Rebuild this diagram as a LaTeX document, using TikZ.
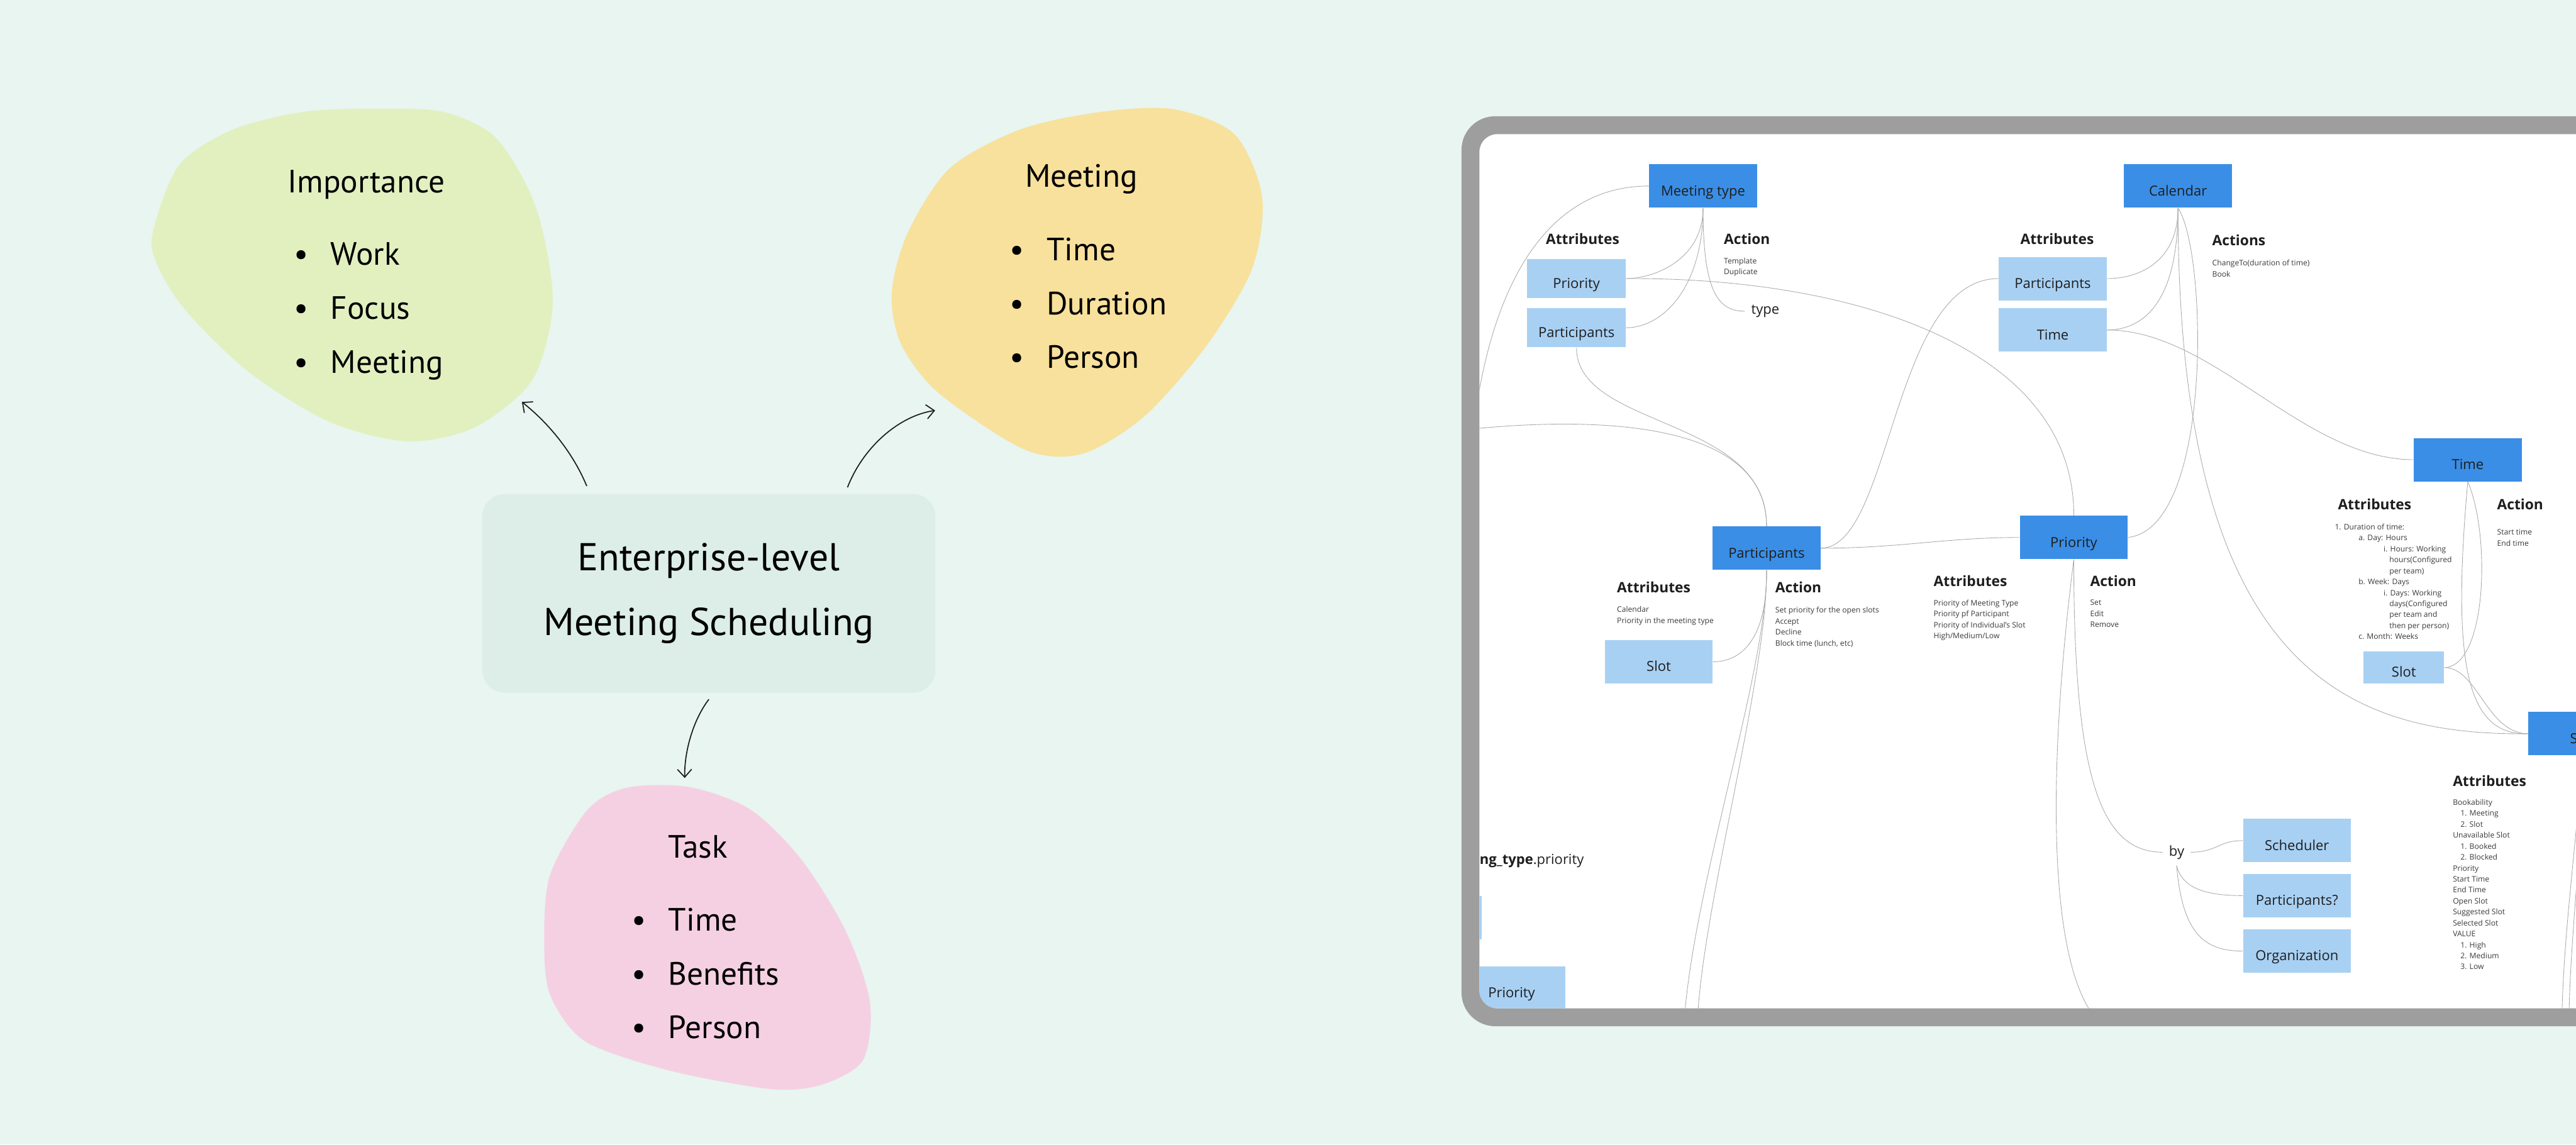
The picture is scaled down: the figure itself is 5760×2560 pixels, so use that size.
\documentclass[tikz,border=0pt]{standalone}
\usepackage{fontspec}
\setmainfont{Open Sans}
\newfontfamily\handfont{PT Sans}
\usetikzlibrary{arrows.meta}

\definecolor{bgmint}{HTML}{E8F5F0}
\definecolor{ctrfill}{HTML}{DCEEE7}
\definecolor{blobgreen}{HTML}{E2F0C0}
\definecolor{blobyellow}{HTML}{F8E19C}
\definecolor{blobpink}{HTML}{F5D0E2}
\definecolor{framegray}{HTML}{9E9E9E}
\definecolor{darkblue}{HTML}{3A8EE6}
\definecolor{lightblue}{HTML}{A8D0F3}
\definecolor{wirecol}{HTML}{ABABAB}
\definecolor{ink}{HTML}{1E1E1E}
\definecolor{notecol}{HTML}{3A3A3A}

\begin{document}
\begin{tikzpicture}[x=0.01cm, y=-0.01cm,
  darkbox/.style={fill=darkblue, minimum width=2.41cm, minimum height=0.97cm, inner sep=0pt,
    text height=14pt, text depth=1.8pt, font=\fontsize{8.8}{10}\selectfont, text=ink},
  lightbox/.style={darkbox, fill=lightblue},
  smallbox/.style={lightbox, minimum width=2.2cm, minimum height=0.87cm},
  head/.style={anchor=west, inner sep=0pt, font=\bfseries\fontsize{9.1}{11}\selectfont, text=ink},
  notes/.style={anchor=north west, inner sep=0pt, align=left, font=\fontsize{4.85}{6.97}\selectfont, text=notecol},
  tag/.style={inner sep=4pt, font=\fontsize{8.8}{10}\selectfont, text=ink},
  wire/.style={draw=wirecol, line width=0.35pt},
  hub/.style={fill=ctrfill, rounded corners=0.5cm, minimum width=10.12cm, minimum height=4.44cm,
    align=center, font=\handfont\fontsize{24.7}{41.5}\selectfont},
  blobtitle/.style={font=\handfont\fontsize{20.5}{24}\selectfont},
  bullets/.style={anchor=north west, inner sep=0pt, align=left, font=\handfont\fontsize{20.5}{34.3}\selectfont},
  pointer/.style={-{Straight Barb[length=5pt,width=9pt]}, line width=0.7pt, draw=ink}
]
  \useasboundingbox (0,0) rectangle (5760,2560);
  \clip (0,0) rectangle (5760,2560);
  \fill[bgmint] (0,0) rectangle (5760,2560);

  % mind map on the left
  \fill[blobgreen] plot[smooth cycle] coordinates {(341,523) (400,370) (520,290) (680,250) (850,243)
    (990,250) (1100,300) (1170,400) (1212,510) (1236,684) (1190,850) (1063,955) (914,987)
    (740,945) (560,835) (420,700) (355,600)};
  \fill[blobyellow] plot[smooth cycle] coordinates {(1994,655) (2030,520) (2124,376) (2280,290)
    (2456,251) (2622,244) (2760,300) (2822,440) (2800,600) (2700,770) (2560,930) (2420,1015)
    (2290,1005) (2100,880) (2015,770)};
  \fill[blobpink] plot[smooth cycle] coordinates {(1229,1960) (1312,1813) (1400,1762) (1540,1760)
    (1677,1810) (1790,1920) (1890,2080) (1945,2240) (1930,2370) (1840,2425) (1726,2436)
    (1500,2395) (1310,2330) (1232,2230) (1217,2120)};

  \node[hub] (hub) at (1585,1327) {Enterprise-level\\Meeting Scheduling};

  \node[blobtitle] (imptitle) at (819,413) {Importance};
  \node[bullets] (implist) at (739,542) {\llap{\textbullet\hspace{0.5cm}}Work\\\llap{\textbullet\hspace{0.5cm}}Focus\\\llap{\textbullet\hspace{0.5cm}}Meeting};
  \node[blobtitle] (meettitle) at (2418,401) {Meeting};
  \node[bullets] (meetlist) at (2340,531) {\llap{\textbullet\hspace{0.5cm}}Time\\\llap{\textbullet\hspace{0.5cm}}Duration\\\llap{\textbullet\hspace{0.5cm}}Person};
  \node[blobtitle] (tasktitle) at (1560,1894) {Task};
  \node[bullets] (tasklist) at (1494,2030) {\llap{\textbullet\hspace{0.5cm}}Time\\\llap{\textbullet\hspace{0.5cm}}Benefits\\\llap{\textbullet\hspace{0.5cm}}Person};

  \coordinate (hubA) at (1312,1087);
  \coordinate (hubB) at (1895,1090);
  \coordinate (hubC) at (1585,1564);
  \coordinate (impend) at (1167,899);
  \coordinate (meetend) at (2091,918);
  \coordinate (taskend) at (1531,1740);
  \draw[pointer] (hubA) .. controls (1280,1010) and (1225,945) .. (impend);
  \draw[pointer] (hubB) .. controls (1930,1000) and (2010,930) .. (meetend);
  \draw[pointer] (hubC) .. controls (1550,1610) and (1530,1680) .. (taskend);

  % board in the tablet frame
  \fill[framegray, rounded corners=0.75cm] (3268,260) rectangle (5950,2295);
  \fill[white, rounded corners=0.4cm] (3308,300) rectangle (5950,2255);
  \begin{scope}
    \clip[rounded corners=0.4cm] (3308,300) rectangle (5950,2255);

    \node[darkbox] (mtype) at (3808,416) {Meeting type};
    \node[darkbox] (cal) at (4870,416) {Calendar};
    \node[darkbox] (partm) at (3950,1226) {Participants};
    \node[darkbox] (prim) at (4637,1202) {Priority};
    \node[darkbox] (timem) at (5518,1028) {Time};
    \node[darkbox] (slotm) at (5774,1641) {Slot};

    \node[smallbox] (mtpri) at (3525,623) {Priority};
    \node[smallbox] (mtpart) at (3525,733) {Participants};
    \node[lightbox] (calpart) at (4590,623) {Participants};
    \node[lightbox] (caltime) at (4590,738) {Time};
    \node[lightbox] (partslot) at (3709,1480) {Slot};
    \node[lightbox, minimum width=1.8cm, minimum height=0.71cm] (timeslot) at (5375,1493) {Slot};
    \node[lightbox] (sched) at (5136,1880) {Scheduler};
    \node[lightbox] (partq) at (5136,2003) {Participants?};
    \node[lightbox] (org) at (5136,2127) {Organization};
    \node[lightbox] (edgebox) at (3192,2053) {};
    \node[lightbox] (lowpri) at (3380,2210) {Priority};

    \node[head] (mtattr) at (3456,534) {Attributes};
    \node[head] (mtact) at (3854,534) {Action};
    \node[notes] (mtactlist) at (3854,576) {Template\\Duplicate};
    \node[tag, anchor=west] (typelbl) at (3901,696) {type};

    \node[head] (calattr) at (4517,534) {Attributes};
    \node[head] (calact) at (4946,537) {Actions};
    \node[notes] (calactlist) at (4946,581) {ChangeTo(duration of time)\\Book};

    \node[head] (partattr) at (3615,1314) {Attributes};
    \node[notes] (partattrlist) at (3615,1356) {Calendar\\Priority in the meeting type};
    \node[head] (partact) at (3969,1314) {Action};
    \node[notes] (partactlist) at (3969,1357) {Set priority for the open slots\\Accept\\Decline\\Block time (lunch, etc)};

    \node[head] (priattr) at (4323,1299) {Attributes};
    \node[notes] (priattrlist) at (4323,1341) {Priority of Meeting Type\\Priority pf Participant\\Priority of Individual's Slot\\High/Medium/Low};
    \node[head] (priact) at (4673,1299) {Action};
    \node[notes] (priactlist) at (4673,1341) {Set\\Edit\\Remove};

    \node[head] (timeattr) at (5227,1128) {Attributes};
    \node[notes] (timeattrlist) at (5220,1171) {1. Duration of time:\\\hspace*{0.53cm}a. Day: Hours\\\hspace*{1.09cm}i. Hours: Working\\\hspace*{1.22cm}hours(Configured\\\hspace*{1.22cm}per team)\\\hspace*{0.53cm}b. Week: Days\\\hspace*{1.09cm}i. Days: Working\\\hspace*{1.22cm}days(Configured\\\hspace*{1.22cm}per team and\\\hspace*{1.22cm}then per person)\\\hspace*{0.53cm}c. Month: Weeks};
    \node[head] (timeact) at (5583,1128) {Action};
    \node[notes] (timeactlist) at (5583,1183) {Start time\\End time};

    \node[head] (slotattr) at (5484,1746) {Attributes};
    \node[notes] (slotattrlist) at (5484,1787) {Bookability\\\hspace*{0.17cm}1. Meeting\\\hspace*{0.17cm}2. Slot\\Unavailable Slot\\\hspace*{0.17cm}1. Booked\\\hspace*{0.17cm}2. Blocked\\Priority\\Start Time\\End Time\\Open Slot\\Suggested Slot\\Selected Slot\\VALUE\\\hspace*{0.17cm}1. High\\\hspace*{0.17cm}2. Medium\\\hspace*{0.17cm}3. Low};

    \node[tag] (bylbl) at (4867,1906) {by};
    \node[tag, anchor=west, inner sep=0pt] (mtpritxt) at (3308,1925) {\textbf{ng\_type}.priority};

    \coordinate (mtexit) at (3290,1000);
    \coordinate (leftin) at (3200,970);
    \coordinate (pdownA) at (3765,2300);
    \coordinate (pdownB) at (3795,2300);
    \coordinate (pridown) at (4710,2300);
    \coordinate (sdownA) at (5728,2300);
    \coordinate (sdownB) at (5744,2300);

    \draw[wire] (mtype.south) .. controls (3808,580) and (3700,623) .. (mtpri.east);
    \draw[wire] (mtype.south) .. controls (3808,640) and (3720,733) .. (mtpart.east);
    \draw[wire] (mtype.south) .. controls (3808,650) and (3840,696) .. (typelbl.west);
    \draw[wire] (mtype.west) .. controls (3480,416) and (3330,600) .. (mtexit);
    \draw[wire] (mtpri.east) .. controls (4150,620) and (4638,780) .. (prim.north);
    \draw[wire] (mtpart.south) .. controls (3525,960) and (3952,930) .. (partm.north);
    \draw[wire] (leftin) .. controls (3500,930) and (3950,920) .. (partm.north);
    \draw[wire] (partm.east) .. controls (4230,1226) and (4230,623) .. (calpart.west);
    \draw[wire] (partm.east) .. controls (4250,1226) and (4350,1202) .. (prim.west);
    \draw[wire] (partm.south) .. controls (3952,1420) and (3900,1480) .. (partslot.east);
    \draw[wire] (partm.south) .. controls (3952,1500) and (3780,2000) .. (pdownA);
    \draw[wire] (partm.south) .. controls (3952,1520) and (3800,2050) .. (pdownB);
    \draw[wire] (prim.east) .. controls (4950,1180) and (4935,560) .. (cal.south);
    \draw[wire] (cal.south) .. controls (4870,580) and (4790,623) .. (calpart.east);
    \draw[wire] (cal.south) .. controls (4870,680) and (4790,738) .. (caltime.east);
    \draw[wire] (cal.south) .. controls (4870,1500) and (5250,1645) .. (slotm.west);
    \draw[wire] (caltime.east) .. controls (4950,738) and (5150,1028) .. (timem.west);
    \draw[wire] (timem.south) .. controls (5570,1200) and (5560,1490) .. (timeslot.east);
    \draw[wire] (timem.south) .. controls (5480,1500) and (5520,1645) .. (slotm.west);
    \draw[wire] (timeslot.east) .. controls (5540,1493) and (5560,1640) .. (slotm.west);
    \draw[wire] (slotm.south) .. controls (5760,1900) and (5730,2100) .. (sdownA);
    \draw[wire] (slotm.south) .. controls (5775,1900) and (5745,2100) .. (sdownB);
    \draw[wire] (prim.south) .. controls (4637,1750) and (4700,1905) .. (bylbl.west);
    \draw[wire] (prim.south) .. controls (4580,1700) and (4570,2200) .. (pridown);
    \draw[wire] (bylbl.east) .. controls (4960,1905) and (4960,1880) .. (sched.west);
    \draw[wire] (bylbl.south) .. controls (4880,1990) and (4940,2003) .. (partq.west);
    \draw[wire] (bylbl.south) .. controls (4880,2090) and (4930,2127) .. (org.west);
  \end{scope}
\end{tikzpicture}
\end{document}
